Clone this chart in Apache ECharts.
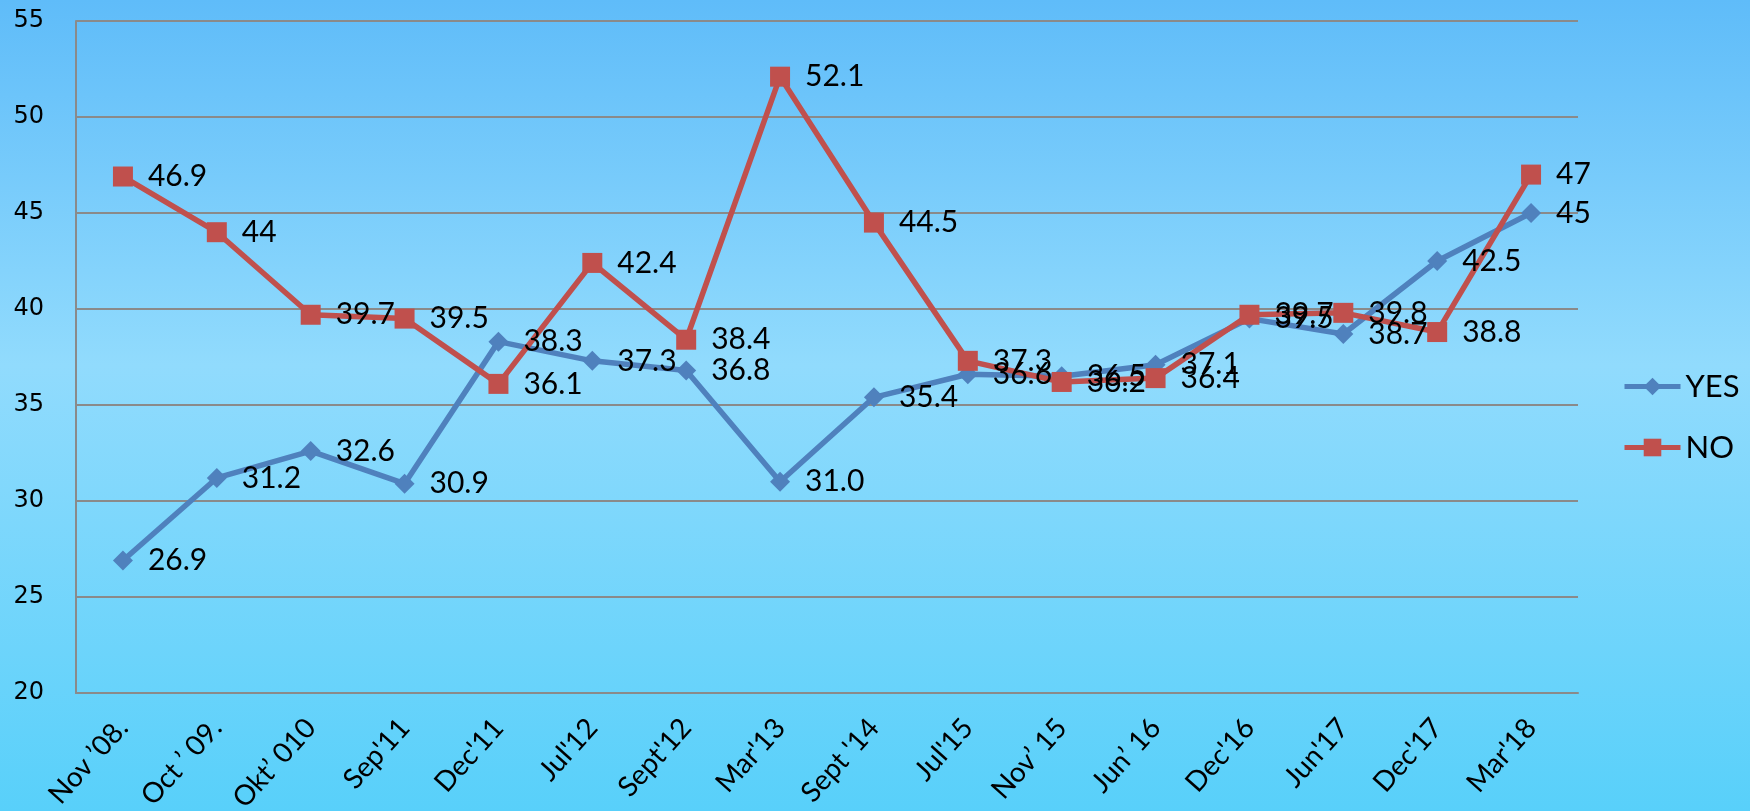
<!DOCTYPE html>
<html>
<head>
<meta charset="utf-8">
<script src="https://cdn.jsdelivr.net/npm/echarts@6/dist/echarts.min.js"></script>
<style>
  html, body { margin: 0; padding: 0; }
  #chart { width: 1750px; height: 811px; }
</style>
</head>
<body>
<div id="chart"></div>
<script>
const categories = ["Nov \u201908.", "Oct \u2019 09.", "Okt\u2019 010", "Sep'11", "Dec'11", "Jul'12", "Sept'12", "Mar'13", "Sept '14", "Jul'15", "Nov\u2019 15", "Jun\u2019 16", "Dec'16", "Jun'17", "Dec'17", "Mar'18"];
// kept as text so the labels read like the original (31.0, 45)
const yesValues = ["26.9", "31.2", "32.6", "30.9", "38.3", "37.3", "36.8", "31.0", "35.4", "36.6", "36.5", "37.1", "39.5", "38.7", "42.5", "45"];
const noValues = ["46.9", "44", "39.7", "39.5", "36.1", "42.4", "38.4", "52.1", "44.5", "37.3", "36.2", "36.4", "39.7", "39.8", "38.8", "47"];

const labelFont = "Lato, 'Open Sans', sans-serif";

let chart = echarts.init(document.getElementById("chart"));

function lineSeries(name, data, color, symbol, size) {
  return {
    name: name,
    type: "line",
    data: data,
    symbol: symbol,
    symbolSize: size,
    itemStyle: { color: color },
    lineStyle: { color: color, width: 5.5 },
    label: {
      show: true,
      position: "right",
      distance: 15,
      color: "#000",
      fontSize: 30,
      fontFamily: labelFont,
      formatter: (p) => p.data,
    },
    emphasis: { disabled: true },
    animation: false,
  };
}

let option = {
  backgroundColor: {
    type: "linear",
    x: 0, y: 0, x2: 0, y2: 1,
    colorStops: [
      { offset: 0, color: "#5fbcf9" },
      { offset: 0.45, color: "#91dbfd" },
      { offset: 1, color: "#58d0fa" },
    ],
  },
  grid: { left: 76, right: 172, top: 21, bottom: 118, outerBoundsMode: "none" },
  legend: {
    orient: "vertical",
    left: 1617,
    top: 366,
    itemWidth: 56,
    itemHeight: 22,
    itemGap: 30,
    lineStyle: { width: 5 },
    textStyle: { color: "#000", fontSize: 31, fontFamily: labelFont, lineHeight: 30 },
    data: ["YES", "NO"],
  },
  xAxis: {
    type: "category",
    data: categories,
    boundaryGap: true,
    axisLine: { lineStyle: { color: "#8a8a8a", width: 2 } },
    axisTick: { show: false },
    axisLabel: {
      rotate: 48,
      interval: 0,
      margin: 30,
      color: "#000",
      fontSize: 28,
      fontFamily: labelFont,
    },
  },
  yAxis: {
    type: "value",
    min: 20,
    max: 55,
    interval: 5,
    axisLine: { show: true, lineStyle: { color: "#8a8a8a", width: 2 } },
    axisTick: { show: false },
    splitLine: { lineStyle: { color: "#8a8a8a", width: 2 } },
    axisLabel: {
      margin: 32,
      color: "#000",
      fontSize: 24,
      fontFamily: "'DejaVu Sans', sans-serif",
    },
  },
  series: [
    lineSeries("YES", yesValues, "#4f81bd", "diamond", 20),
    lineSeries("NO", noValues, "#c0504d", "rect", 20),
  ],
};

chart.setOption(option);
</script>
</body>
</html>
